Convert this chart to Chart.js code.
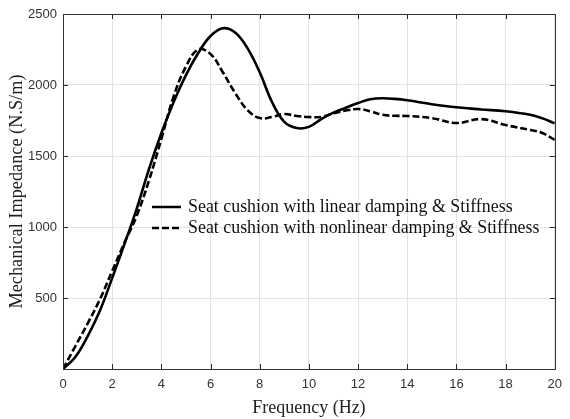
<!DOCTYPE html>
<html>
<head>
<meta charset="utf-8">
<script src="https://cdn.jsdelivr.net/npm/chart.js@4.4.0/dist/chart.umd.min.js"></script>
<style>
html,body{margin:0;padding:0;background:#fff;}
#wrap{width:570px;height:419px;}
</style>
</head>
<body>
<div id="wrap"><canvas id="c" width="570" height="419"></canvas></div>
<script>
const freq = [0,0.5,1,1.5,2,2.5,3,3.5,4,4.5,5,5.5,6,6.5,7,7.5,8,8.5,9,9.5,10,10.5,11,11.5,12,12.5,13,13.5,14,15,16,17,18,19,19.5,20];
const linearVals = [0,85,230,410,640,880,1130,1410,1660,1880,2070,2225,2345,2400,2370,2260,2090,1880,1740,1697,1705,1760,1805,1840,1873,1900,1907,1902,1892,1865,1843,1828,1815,1790,1765,1730];
const nonlinearVals = [0,160,320,490,690,890,1080,1330,1620,1920,2130,2250,2218,2090,1944,1824,1767,1775,1796,1782,1775,1775,1800,1820,1831,1815,1790,1783,1782,1767,1732,1760,1718,1683,1662,1613];
const seriesLabels = ['Seat cushion with linear damping & Stiffness','Seat cushion with nonlinear damping & Stiffness'];
const xTicks = [0,2,4,6,8,10,12,14,16,18,20];
const yTicks = [500,1000,1500,2000,2500];

const serif = "'Liberation Serif','Times New Roman',serif";
const sans = "'Liberation Sans',Arial,sans-serif";

const boxPlugin = {
  id:'box',
  afterDatasetsDraw(chart){
    const {ctx, chartArea:a, scales} = chart;
    ctx.save();
    ctx.strokeStyle = '#262626';
    ctx.lineWidth = 1;
    const tl = 5;
    ctx.beginPath();
    xTicks.forEach(v=>{
      const x = Math.round(scales.x.getPixelForValue(v))+0.5;
      ctx.moveTo(x,a.bottom); ctx.lineTo(x,a.bottom-tl);
      ctx.moveTo(x,a.top); ctx.lineTo(x,a.top+tl);
    });
    yTicks.forEach(v=>{
      const y = Math.round(scales.y.getPixelForValue(v))+0.5;
      ctx.moveTo(a.left,y); ctx.lineTo(a.left+tl,y);
      ctx.moveTo(a.right,y); ctx.lineTo(a.right-tl,y);
    });
    ctx.stroke();
    ctx.strokeStyle = '#333';
    ctx.strokeRect(Math.round(a.left)+0.5, Math.round(a.top)+0.5, Math.round(a.right-a.left), Math.round(a.bottom-a.top));
    const rows = [{y:207, dash:[]},{y:228, dash:[7,3]}];
    ctx.font = "17.9px " + serif;
    ctx.fillStyle = '#111';
    ctx.textBaseline = 'middle';
    rows.forEach((r,i)=>{
      ctx.setLineDash(r.dash);
      ctx.lineWidth = 2.5;
      ctx.strokeStyle = '#000';
      ctx.beginPath(); ctx.moveTo(152,r.y); ctx.lineTo(181,r.y); ctx.stroke();
      ctx.setLineDash([]);
      ctx.fillText(chart.data.datasets[i].label, 188, r.y);
    });
    ctx.restore();
  }
};

new Chart(document.getElementById('c'), {
  type:'line',
  data:{
    datasets:[
      {label:seriesLabels[0], data:freq.map((f,i)=>({x:f,y:linearVals[i]})), borderColor:'#000', borderWidth:2.6, pointRadius:0, tension:0.4, fill:false},
      {label:seriesLabels[1], data:freq.map((f,i)=>({x:f,y:nonlinearVals[i]})), borderColor:'#000', borderWidth:2.6, borderDash:[7,3], pointRadius:0, tension:0.4, fill:false}
    ]
  },
  options:{
    responsive:false,
    animation:false,
    devicePixelRatio:1,
    layout:{padding:{top:14,right:7,left:0,bottom:0}},
    plugins:{legend:{display:false}, tooltip:{enabled:false}},
    scales:{
      x:{
        type:'linear', min:0, max:20,
        afterBuildTicks(s){ s.ticks = xTicks.map(v=>({value:v})); },
        afterFit(s){ s.height = 50; },
        grid:{color:'#e3e3e3', drawTicks:false},
        border:{display:false},
        ticks:{color:'#333', font:{family:sans, size:13}, padding:8, callback:v=>String(v)},
        title:{display:true, text:'Frequency (Hz)', color:'#222', font:{family:serif, size:18}, padding:{top:0,bottom:0}}
      },
      y:{
        type:'linear', min:0, max:2500,
        afterBuildTicks(s){ s.ticks = yTicks.map(v=>({value:v})); },
        afterFit(s){ s.width = 63; },
        grid:{color:'#e3e3e3', drawTicks:false},
        border:{display:false},
        ticks:{color:'#333', font:{family:sans, size:13}, padding:6, callback:v=>String(v)},
        title:{display:true, text:'Mechanical Impedance (N.S/m)', color:'#222', font:{family:serif, size:18.3}, padding:{top:6,bottom:4}}
      }
    }
  },
  plugins:[boxPlugin]
});
</script>
</body>
</html>
